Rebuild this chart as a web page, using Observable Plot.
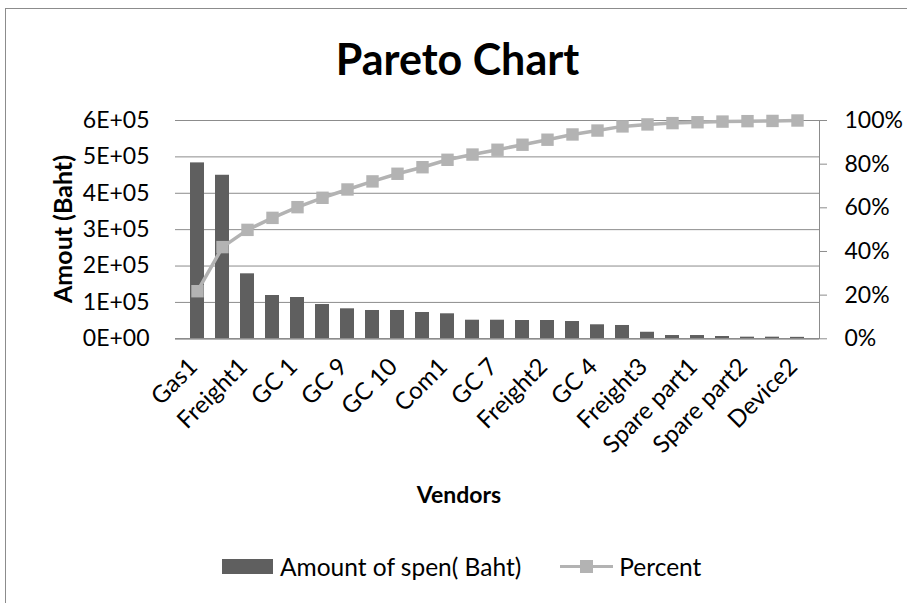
<!DOCTYPE html>
<html>
<head>
<meta charset="utf-8">
<script src="https://cdn.jsdelivr.net/npm/d3@7"></script>
<script src="https://cdn.jsdelivr.net/npm/@observablehq/plot@0.6"></script>
<style>
  html, body { margin: 0; padding: 0; background: #fff; }
  body { width: 907px; height: 603px; position: relative; overflow: hidden; font-family: Lato, "Open Sans", sans-serif; color: #000; }
  #frame { position: absolute; left: 5px; top: 8px; width: 1000px; height: 700px; border-left: 1px solid #8c8c8c; border-top: 1px solid #8c8c8c; }
  #chart { position: absolute; left: 0; top: 0; }
  .title { position: absolute; left: 0; width: 915px; top: 32px; text-align: center; font-size: 43px; font-weight: 700; line-height: 54px; }
  .ylabel { position: absolute; left: 62px; top: 229px; transform: translate(-50%, -50%) rotate(-90deg); font-size: 25px; font-weight: 700; white-space: nowrap; }
  .xlabel { position: absolute; left: 459px; top: 494px; transform: translate(-50%, -50%); font-size: 23px; font-weight: 700; white-space: nowrap; }
  .legend { position: absolute; top: 551px; left: 222px; height: 30px; display: flex; align-items: center; font-size: 24.5px; white-space: nowrap; }
  .sw-bar { width: 51px; height: 15px; background: #5f5f5f; margin-right: 7px; }
  .sw-line { width: 53px; height: 15px; position: relative; margin-left: 39px; margin-right: 6px; }
  .sw-line::before { content: ""; position: absolute; left: 0; right: 0; top: 6px; height: 3px; background: #b3b3b3; }
  .sw-line::after { content: ""; position: absolute; left: 20px; top: 1px; width: 13px; height: 13px; background: #b3b3b3; }
</style>
</head>
<body>
<div id="frame"></div>
<div id="chart"></div>
<div class="title">Pareto Chart</div>
<div class="ylabel">Amout (Baht)</div>
<div class="xlabel">Vendors</div>
<div class="legend"><div class="sw-bar"></div><span>Amount of spen( Baht)</span><div class="sw-line"></div><span>Percent</span></div>
<script>
// Vendor labels (only every other category is labeled in the reference)
const vendorLabels = ["Gas1","","Freight1","","GC 1","","GC 9","","GC 10","","Com1","","GC 7","","Freight2","","GC 4","","Freight3","","Spare part1","","Spare part2","","Device2"];
// Amount spent (Baht)
const amounts = [483500,449500,178600,119000,113500,94200,82400,77800,77800,72300,68700,51100,51100,50300,50300,47500,38500,36600,18000,9000,9000,6300,4500,4500,4000];
// Cumulative percent
const cumPercent = [21.8,42.0,49.9,55.4,60.3,64.6,68.4,72.1,75.6,78.6,82.0,84.4,86.6,88.9,91.2,93.6,95.4,97.3,98.2,98.8,99.2,99.5,99.7,99.8,100];
// Axis ticks
const amountTicks = [0,100000,200000,300000,400000,500000,600000];
const amountTickLabels = ["0E+00","1E+05","2E+05","3E+05","4E+05","5E+05","6E+05"];
const percentTicks = [0,20,40,60,80,100];
const percentTickLabels = ["0%","20%","40%","60%","80%","100%"];

const amountMax = 600000;
const pctToAmount = p => p / 100 * amountMax;

const data = amounts.map((a, i) => ({i, label: vendorLabels[i], amount: a, pct: cumPercent[i]}));
const labeledIdx = data.filter(d => d.label !== "").map(d => d.i);

const plot = Plot.plot({
  width: 907,
  height: 603,
  marginLeft: 175,
  marginRight: 88,
  marginTop: 120,
  marginBottom: 264.7,
  style: {fontFamily: "Lato, 'Open Sans', sans-serif", fontSize: "23px", color: "#000", background: "transparent", overflow: "visible"},
  x: {type: "band", domain: data.map(d => d.i), padding: 0.44},
  y: {domain: [0, amountMax]},
  marks: [
    Plot.gridY(amountTicks, {stroke: "#8c8c8c", strokeOpacity: 1, strokeWidth: 1}),
    Plot.barY(data, {x: "i", y: "amount", fill: "#5f5f5f"}),
    Plot.ruleY([0], {stroke: "#8c8c8c", strokeWidth: 1.5}),
    Plot.frame({anchor: "right", stroke: "#8c8c8c"}),
    Plot.line(data, {x: "i", y: d => pctToAmount(d.pct), stroke: "#b3b3b3", strokeWidth: 3.5}),
    Plot.dot(data, {x: "i", y: d => pctToAmount(d.pct), symbol: "square", r: 7, fill: "#b3b3b3", stroke: "none"}),
    Plot.axisY({anchor: "left", ticks: amountTicks, tickFormat: d => amountTickLabels[amountTicks.indexOf(d)], tickSize: 0, tickPadding: 26, fontSize: 23, label: null}),
    Plot.axisY({anchor: "right", ticks: percentTicks.map(pctToAmount), tickFormat: d => percentTickLabels[percentTicks.map(pctToAmount).indexOf(d)], tickSize: 7, tickPadding: 18, fontSize: 23, stroke: "#8c8c8c", color: "#000", label: null}),
    Plot.axisX({ticks: labeledIdx, tickFormat: i => vendorLabels[i], tickRotate: -45, tickSize: 0, tickPadding: 20, fontSize: 24, dx: -4, dy: 4, label: null})
  ]
});
document.getElementById("chart").appendChild(plot);
</script>
</body>
</html>
